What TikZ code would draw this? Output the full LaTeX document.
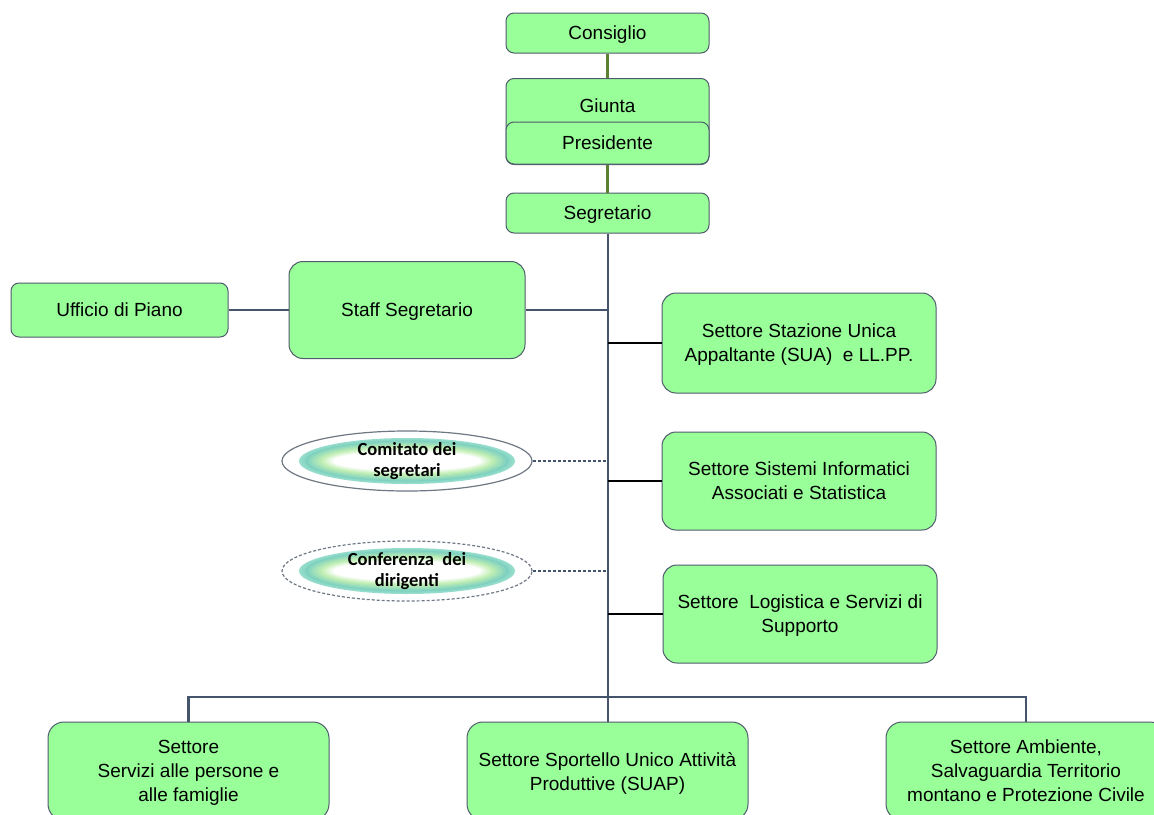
\documentclass[tikz,border=0pt]{standalone}
\usepackage{fontspec}
\setmainfont{Liberation Sans}
\newfontfamily\calib{Carlito}
\usetikzlibrary{shapes.geometric}
\definecolor{boxfill}{HTML}{99FF99}
\definecolor{boxline}{HTML}{4F5B6C}
\definecolor{conn}{HTML}{44546A}
\definecolor{greenconn}{HTML}{5B8131}
\definecolor{ringa}{HTML}{95DCCB}
\definecolor{ringb}{HTML}{7ED1C0}
\definecolor{ringc}{HTML}{C2EFB4}
\definecolor{ellline}{HTML}{6E7782}
\begin{document}
\begin{tikzpicture}[x=1pt,y=-1pt,
  box/.style={draw=boxline, line width=1pt, fill=boxfill, rounded corners=8pt, inner sep=0pt, align=center, text depth=0pt, font=\fontsize{19}{24}\selectfont},
  bigbox/.style={box, rounded corners=14pt},
  boxtext/.style={inner sep=0pt, align=center, font=\fontsize{19}{24}\selectfont},
  ell/.style={ellipse, draw=ellline, line width=1.2pt, fill=white, minimum width=250pt, minimum height=60pt, inner sep=0pt, align=center, font=\calib\bfseries\fontsize{18.5}{21}\selectfont,
    path picture={
      \foreach \t/\c in {0/ringa, 0.08/ringa!60!ringb, 0.16/ringb, 0.24/ringb!80!ringc, 0.32/ringb!60!ringc, 0.40/ringb!40!ringc, 0.48/ringb!20!ringc, 0.56/ringc, 0.64/ringc!75!white, 0.72/ringc!50!white, 0.80/ringc!25!white, 0.88/white}{
        \pgfmathsetmacro\rxv{108-38*\t}
        \pgfmathsetmacro\ryv{23-15*\t}
        \fill[\c] (path picture bounding box.center) ellipse [x radius=\rxv, y radius=\ryv];
      }
    }},
  link/.style={draw=conn, line width=2.4pt},
  glink/.style={draw=greenconn, line width=3.2pt},
  blink/.style={draw=black, line width=2.2pt},
  dlink/.style={draw=conn, line width=1.6pt, dash pattern=on 3pt off 2pt}
]
\useasboundingbox (0,0) rectangle (1154,814);
\clip (0,0) rectangle (1154,814);

% top chain
\node[box, minimum width=203pt, minimum height=40pt] (cons) at (607.5,33) {Consiglio};
\node[box, minimum width=203pt, minimum height=86pt, anchor=north] (giunta) at (607.5,78) {};
\node[boxtext] (giuntat) at (607.5,106) {Giunta};
\node[box, minimum width=203pt, minimum height=42pt] (pres) at (607.5,143) {Presidente};
\node[box, minimum width=203pt, minimum height=40pt] (seg) at (607.5,213) {Segretario};

% staff
\node[box, minimum width=217pt, minimum height=54pt] (uff) at (119.5,310) {Ufficio di Piano};
\node[bigbox, minimum width=236pt, minimum height=97pt] (staff) at (407,310) {Staff Segretario};

% right settori
\node[bigbox, minimum width=274pt, minimum height=100pt] (sua) at (799,343) {Settore Stazione Unica\\Appaltante (SUA)\ \ e LL.PP.};
\node[bigbox, minimum width=274pt, minimum height=98pt] (sis) at (799,481) {Settore Sistemi Informatici\\Associati e Statistica};
\node[bigbox, minimum width=274pt, minimum height=98pt] (log) at (800,614) {Settore\ \ Logistica e Servizi di\\Supporto};

% ellipses
\node[ell] (com) at (407,461) {Comitato dei\\segretari};
\node[ell, dash pattern=on 3pt off 2pt] (conf) at (407,571) {Conferenza\ \ dei\\dirigenti};

% bottom settori
\node[bigbox, rounded corners=16pt, minimum width=281pt, minimum height=98pt] (bl) at (188.5,771) {Settore\\Servizi alle persone e\\alle famiglie};
\node[bigbox, rounded corners=16pt, minimum width=281pt, minimum height=98pt] (bm) at (607.5,771) {Settore Sportello Unico Attività\\Produttive (SUAP)};
\node[bigbox, rounded corners=16pt, minimum width=280pt, minimum height=98pt] (br) at (1026,771) {Settore Ambiente,\\Salvaguardia Territorio\\montano e Protezione Civile};

\coordinate (barc) at (608,697);

% connectors
\draw[glink] (cons) -- (giunta);
\draw[glink] (pres) -- (seg);
\draw[link] (seg.south -| barc) -- (barc);
\draw[link] (uff.east) -- (uff.east -| staff.west);
\draw[link] (staff.east) -- (staff.east -| barc);
\draw[blink] (sua.west -| barc) -- (sua.west);
\draw[blink] (sis.west -| barc) -- (sis.west);
\draw[blink] (log.west -| barc) -- (log.west);
\draw[dlink] (com.east) -- (com.east -| barc);
\draw[dlink] (conf.east) -- (conf.east -| barc);
\draw[link] (bl.north) -- (bl.north |- barc) -- (br.north |- barc) -- (br.north);
\draw[link] (barc) -- (bm.north -| barc);
\end{tikzpicture}
\end{document}
